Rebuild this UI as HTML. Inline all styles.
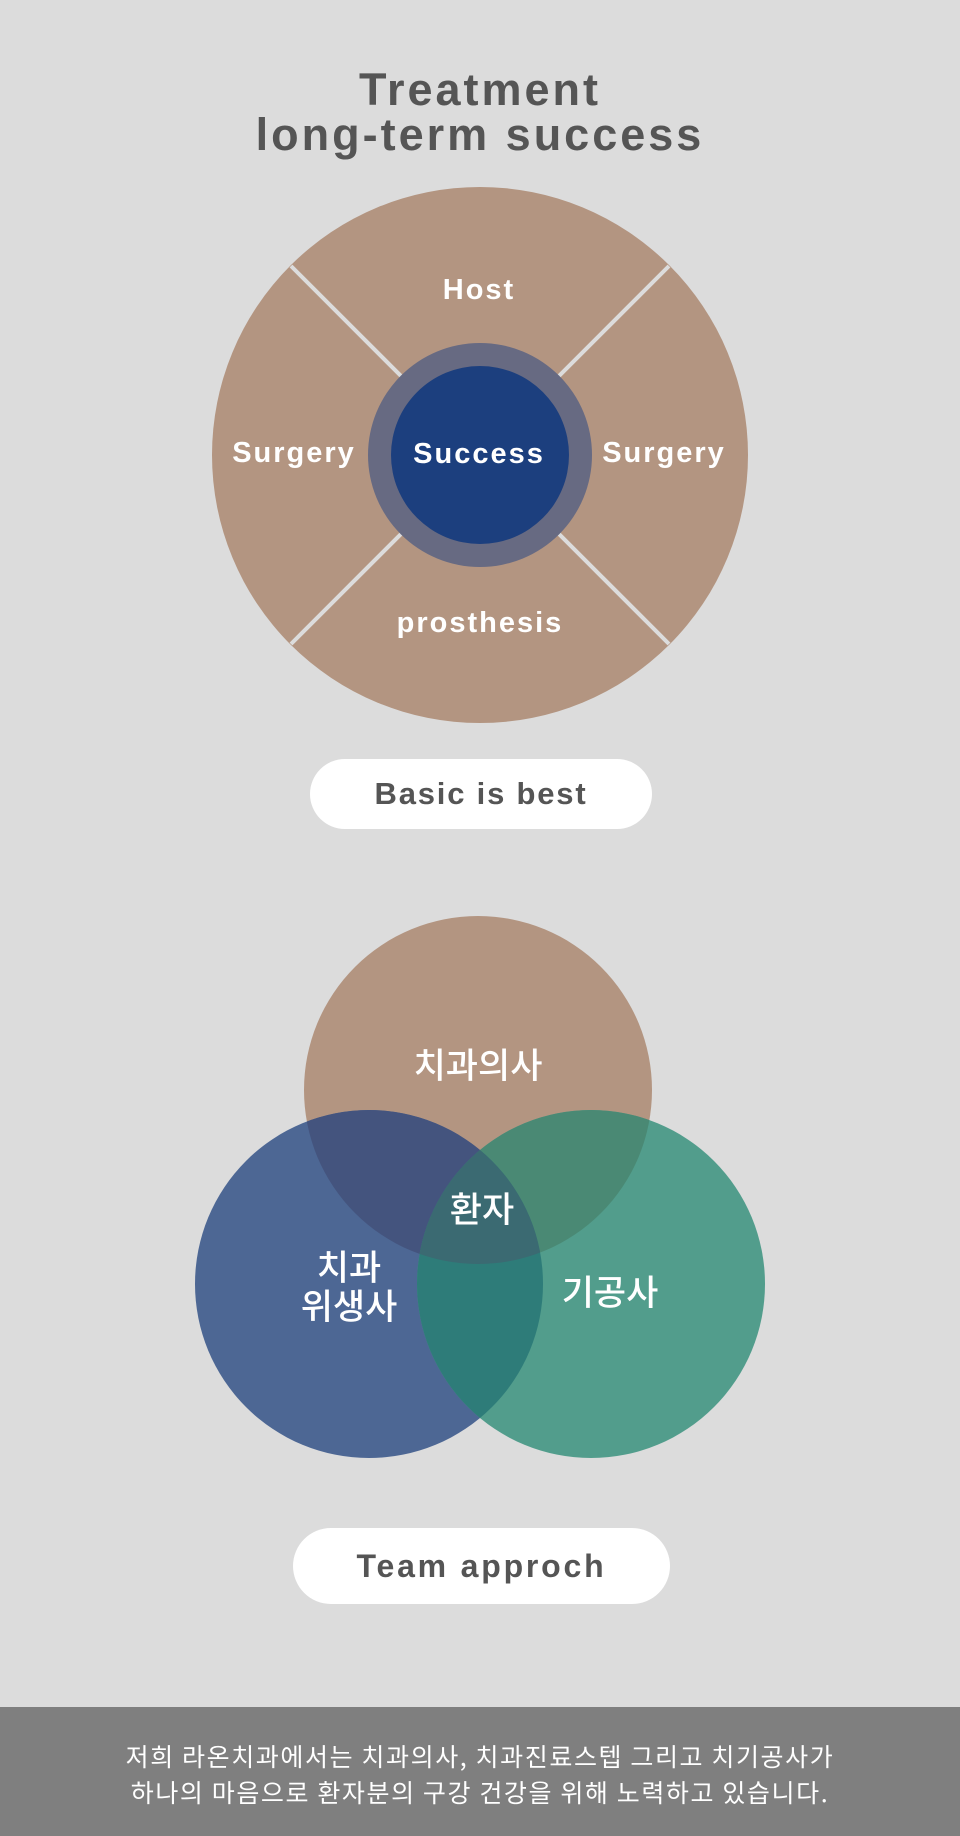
<!DOCTYPE html>
<html><head><meta charset="utf-8"><style>
html,body{margin:0;padding:0}
body{width:960px;height:1836px;background:#dcdcdc;position:relative;overflow:hidden;font-family:"Liberation Sans","Noto Sans CJK KR",sans-serif}
.t{position:absolute;left:0;width:960px;text-align:center;font-weight:bold;color:#555;font-size:45px;line-height:1;letter-spacing:3px}
.pill{position:absolute;background:#fff;border-radius:40px;text-align:center;font-weight:bold;color:#555}
.foot{position:absolute;left:0;top:1707px;width:960px;height:129px;background:#7f7f7f;color:#fff;text-align:center;font-family:"Noto Sans CJK KR",sans-serif;font-size:25px;line-height:36px;letter-spacing:1.6px}
</style></head><body>
<div class="t" style="top:67px">Treatment</div>
<div class="t" style="top:112px">long-term success</div>
<svg width="960" height="1836" style="position:absolute;left:0;top:0" font-family="Liberation Sans, Noto Sans CJK KR, sans-serif">
<circle cx="480" cy="455" r="268" fill="#b39581"/>
<g stroke="#dcdcdc" stroke-width="4">
<line x1="480" y1="455" x2="291" y2="266"/>
<line x1="480" y1="455" x2="669" y2="266"/>
<line x1="480" y1="455" x2="291" y2="644"/>
<line x1="480" y1="455" x2="669" y2="644"/>
</g>
<circle cx="480" cy="455" r="112" fill="#676a82"/>
<circle cx="480" cy="455" r="89" fill="#1c3f7e"/>
<g fill="#fff" font-weight="bold" font-size="29" text-anchor="middle" letter-spacing="2">
<text x="479" y="299">Host</text>
<text x="294" y="462">Surgery</text>
<text x="664" y="462">Surgery</text>
<text x="479" y="463">Success</text>
<text x="480" y="632">prosthesis</text>
</g>
<defs>
<clipPath id="ct"><circle cx="478" cy="1090" r="174"/></clipPath>
<clipPath id="cl"><circle cx="369" cy="1284" r="174"/></clipPath>
<clipPath id="cr"><circle cx="591" cy="1284" r="174"/></clipPath>
</defs>
<circle cx="478" cy="1090" r="174" fill="#b39581"/>
<circle cx="369" cy="1284" r="174" fill="#4d6794"/>
<circle cx="591" cy="1284" r="174" fill="#529d8c"/>
<circle cx="369" cy="1284" r="174" fill="#44547e" clip-path="url(#ct)"/>
<circle cx="591" cy="1284" r="174" fill="#4a8974" clip-path="url(#ct)"/>
<g clip-path="url(#cl)"><circle cx="591" cy="1284" r="174" fill="#2e7c79"/></g>
<g clip-path="url(#ct)"><g clip-path="url(#cl)"><circle cx="591" cy="1284" r="174" fill="#3b6a72"/></g></g>
<g fill="#fff" font-size="35" text-anchor="middle" font-family="Noto Sans CJK KR, sans-serif" font-weight="500">
<text x="478" y="1078">치과의사</text>
<text x="482" y="1222">환자</text>
<text x="349" y="1280">치과</text>
<text x="349" y="1319">위생사</text>
<text x="610" y="1305">기공사</text>
</g>
</svg>
<div class="pill" style="left:310px;top:759px;width:342px;height:70px;line-height:70px;font-size:31px;letter-spacing:1.8px">Basic is best</div>
<div class="pill" style="left:293px;top:1528px;width:377px;height:76px;line-height:76px;font-size:32px;letter-spacing:2.8px">Team approch</div>
<div class="foot"><div style="padding-top:31px">저희 라온치과에서는 치과의사, 치과진료스텝 그리고 치기공사가<br>하나의 마음으로 환자분의 구강 건강을 위해 노력하고 있습니다.</div></div>
</body></html>
